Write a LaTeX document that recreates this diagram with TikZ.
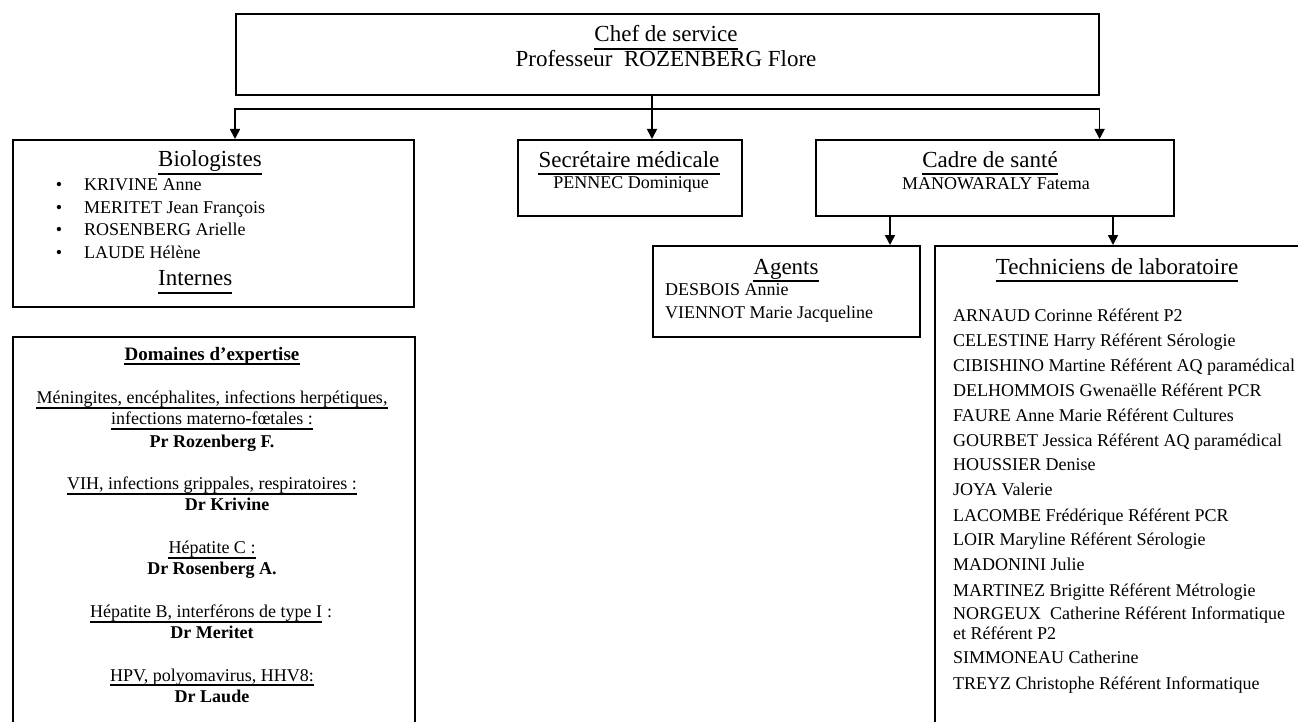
\documentclass[tikz,border=0pt]{standalone}
\usepackage{fontspec}
\setmainfont{Liberation Serif}
\usetikzlibrary{arrows.meta}
\newcommand\ulof[2]{\draw[ulstyle] ([yshift=-#2pt]#1.base west) -- ([yshift=-#2pt]#1.base east);}
\tikzset{
  box/.style={draw, line width=1.6pt, rectangle, inner sep=0pt, anchor=north west},
  headtxt/.style={font=\fontsize{23}{28}\selectfont, inner sep=0pt, anchor=base},
  bodytxt/.style={font=\fontsize{18}{22}\selectfont, inner sep=0pt, anchor=base},
  bodyleft/.style={bodytxt, anchor=base west},
  boldtxt/.style={font=\fontsize{18}{22}\selectfont\bfseries, inner sep=0pt, anchor=base},
  ulstyle/.style={line width=1.3pt},
  con/.style={line width=1.6pt, -{Triangle[length=10pt,width=10pt]}},
  biarrow/.style={line width=1.6pt, {Triangle[length=10pt,width=10pt]}-{Triangle[length=10pt,width=10pt]}},
}
\begin{document}
\begin{tikzpicture}[x=1pt,y=-1pt]
\clip (0,0) rectangle (1298,722);
\fill[white] (0,0) rectangle (1298,722);

% boxes
\node[box, minimum width=863pt, minimum height=81pt] (chef) at (235,13) {};
\node[box, minimum width=401pt, minimum height=167pt] (bio) at (12,139) {};
\node[box, minimum width=224pt, minimum height=76pt] (sec) at (517,139) {};
\node[box, minimum width=358pt, minimum height=76pt] (cad) at (815,139) {};
\node[box, minimum width=267pt, minimum height=91pt] (ag) at (652,245) {};
\node[box, minimum width=420pt, minimum height=520pt] (tech) at (934,245) {};
\node[box, minimum width=402pt, minimum height=420pt] (dom) at (12,336) {};

% connectors
\coordinate (xs) at (652,0);
\coordinate (hl) at (0,109);
\coordinate (xa) at (890,0);
\coordinate (xt) at (1113,0);
\draw[con] (chef.south -| xs) -- (sec.north -| xs);
\draw[biarrow] (bio.north -| chef.south west) -- (chef.south west |- hl) -- (chef.south east |- hl) -- (cad.north -| chef.south east);
\draw[con] (cad.south -| xa) -- (ag.north -| xa);
\draw[con] (cad.south -| xt) -- (tech.north -| xt);

% chef
\node[headtxt] (chefT) at (666,42) {Chef de service}; \ulof{chefT}{7}
\node[headtxt] (chefN) at (666,67) {Professeur\ \ ROZENBERG Flore};

% biologistes
\node[headtxt, anchor=base west] (bioT) at (158,167) {Biologistes\ }; \ulof{bioT}{7}
\node[bodytxt] (bu1) at (59,191) {•}; \node[bodyleft] (bn1) at (84,191) {KRIVINE Anne};
\node[bodytxt] (bu2) at (59,214) {•}; \node[bodyleft] (bn2) at (84,214) {MERITET Jean François};
\node[bodytxt] (bu3) at (59,236) {•}; \node[bodyleft] (bn3) at (84,236) {ROSENBERG Arielle};
\node[bodytxt] (bu4) at (59,258) {•}; \node[bodyleft] (bn4) at (84,258) {LAUDE Hélène};
\node[headtxt, anchor=base west] (intT) at (158,285) {Internes}; \ulof{intT}{8}

% secretaire
\node[headtxt] (secT) at (629,168) {Secrétaire médicale}; \ulof{secT}{6}
\node[bodytxt] (secN) at (631,189) {PENNEC Dominique};

% cadre
\node[headtxt] (cadT) at (990,168) {Cadre de santé}; \ulof{cadT}{6}
\node[bodytxt] (cadN) at (996,190) {MANOWARALY Fatema};

% agents
\node[headtxt] (agT) at (786,274) {Agents}; \ulof{agT}{7}
\node[bodyleft] (ag1) at (665,295) {DESBOIS Annie};
\node[bodyleft] (ag2) at (665,318) {VIENNOT Marie Jacqueline};

% techniciens
\node[headtxt] (teT) at (1117,274) {Techniciens de laboratoire}; \ulof{teT}{7}
\node[bodyleft] (t1) at (953,321) {ARNAUD Corinne Référent P2};
\node[bodyleft] (t2) at (953,346) {CELESTINE Harry Référent Sérologie};
\node[bodyleft] (t3) at (953,371) {CIBISHINO Martine Référent AQ paramédical};
\node[bodyleft] (t4) at (953,396) {DELHOMMOIS Gwenaëlle Référent PCR};
\node[bodyleft] (t5) at (953,421) {FAURE Anne Marie Référent Cultures};
\node[bodyleft] (t6) at (953,446) {GOURBET Jessica Référent AQ paramédical};
\node[bodyleft] (t7) at (953,470) {HOUSSIER Denise};
\node[bodyleft] (t8) at (953,495) {JOYA Valerie};
\node[bodyleft] (t9) at (953,521) {LACOMBE Frédérique Référent PCR};
\node[bodyleft] (t10) at (953,545) {LOIR Maryline Référent Sérologie};
\node[bodyleft] (t11) at (953,570) {MADONINI Julie};
\node[bodyleft] (t12) at (953,596) {MARTINEZ Brigitte Référent Métrologie};
\node[bodyleft] (t13) at (953,619) {NORGEUX\ \ Catherine Référent Informatique};
\node[bodyleft] (t14) at (953,639) {et Référent P2};
\node[bodyleft] (t15) at (953,663) {SIMMONEAU Catherine};
\node[bodyleft] (t16) at (953,689) {TREYZ Christophe Référent Informatique};

% domaines
\node[boldtxt, font=\fontsize{19}{23}\selectfont\bfseries] (domT) at (212,360) {Domaines d’expertise\ }; \ulof{domT}{4}
\node[bodytxt] (d1) at (212,403) {Méningites, encéphalites, infections herpétiques,}; \ulof{d1}{5}
\node[bodytxt] (d2) at (212,424) {infections materno-fœtales :}; \ulof{d2}{5}
\node[boldtxt] (d3) at (212,447) {Pr Rozenberg F.};
\node[bodytxt] (d4) at (212,489) {VIH, infections grippales, respiratoires :}; \ulof{d4}{5}
\node[boldtxt] (d5) at (227,510) {Dr Krivine};
\node[bodytxt] (d6) at (212,553) {Hépatite C :}; \ulof{d6}{5}
\node[boldtxt] (d7) at (212,574) {Dr Rosenberg A.};
\node[bodyleft] (d8) at (90,617) {Hépatite B, interférons de type I}; \ulof{d8}{5}
\node[bodyleft] (d8c) at (d8.base east) {\ :};
\node[boldtxt] (d9) at (212,638) {Dr Meritet};
\node[bodytxt] (d10) at (212,681) {HPV, polyomavirus, HHV8:}; \ulof{d10}{4}
\node[boldtxt] (d11) at (212,702) {Dr Laude};
\end{tikzpicture}
\end{document}
